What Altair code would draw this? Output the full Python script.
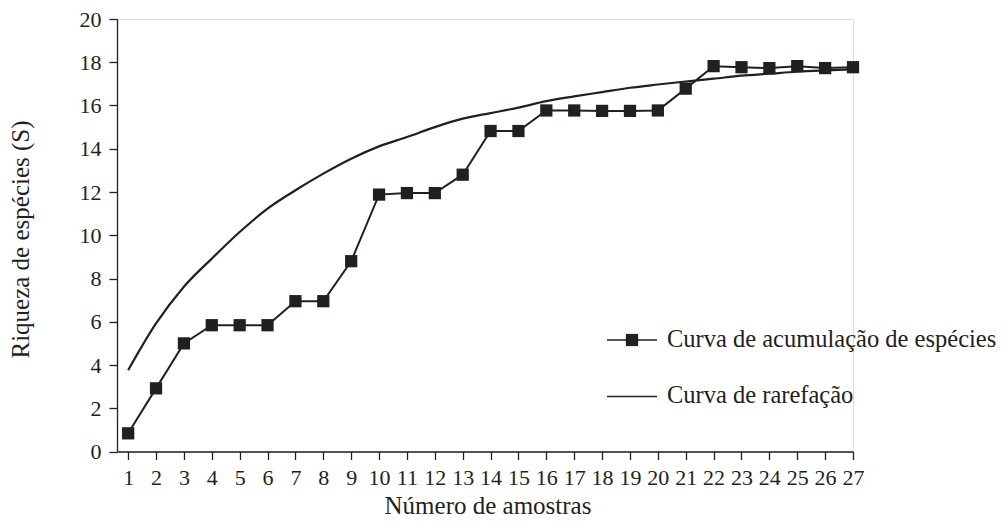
import altair as alt
import pandas as pd

amostras = list(range(1, 28))
acumulacao = [0.84, 2.92, 5.0, 5.84, 5.84, 5.84, 6.95, 6.95, 8.8, 11.88, 11.95, 11.95, 12.8,
              14.82, 14.82, 15.77, 15.77, 15.75, 15.75, 15.77, 16.78, 17.82, 17.77, 17.73,
              17.82, 17.73, 17.77]
rarefacao = [3.76, 5.92, 7.62, 8.92, 10.15, 11.23, 12.08, 12.85, 13.54, 14.11, 14.54, 15.0,
             15.39, 15.65, 15.9, 16.2, 16.42, 16.62, 16.82, 16.97, 17.11, 17.24, 17.38, 17.47,
             17.56, 17.62, 17.67]
y_ticks = list(range(0, 21, 2))
legend_labels = ["Curva de acumulação de espécies", "Curva de rarefação"]

INK = "#231f20"
FONT = "Liberation Serif"
FS = 22      # tick labels
FT = 25      # axis titles
FL = 24.5    # legend

df = pd.DataFrame({"amostra": amostras, "acum": acumulacao, "rare": rarefacao})

x_scale = alt.Scale(domain=[0.6, 27], nice=False, zero=False)
x_axis = alt.Axis(values=amostras, title="Número de amostras", grid=False,
                  tickSize=8, labelPadding=8, labelFontSize=FS, labelFont=FONT,
                  labelColor=INK, titleFont=FONT, titleFontSize=FT, titleFontWeight="normal",
                  titleColor=INK, titleX=370.5, titleY=53.5, titleBaseline="middle",
                  labelFlush=False, labelOverlap=False, domainColor=INK, tickColor=INK,
                  domainWidth=1.3, tickWidth=1.3)
y_axis = alt.Axis(values=y_ticks, title="Riqueza de espécies (S)", grid=False,
                  tickSize=8, labelPadding=8, labelFontSize=FS, labelFont=FONT,
                  labelColor=INK, titleFont=FONT, titleFontSize=FT, titleFontWeight="normal",
                  titleColor=INK, titleX=-97, titleY=220, titleAngle=-90,
                  titleBaseline="middle", titleAlign="center", labelFlush=False,
                  labelOverlap=False, domainColor=INK, tickColor=INK,
                  domainWidth=1.3, tickWidth=1.3)
y_scale = alt.Scale(domain=[0, 20], nice=False)

x_enc = alt.X("amostra:Q", scale=x_scale, axis=x_axis)

base = alt.Chart(df)
rare_line = base.mark_line(color=INK, strokeWidth=2.2, interpolate="monotone").encode(
    x=x_enc, y=alt.Y("rare:Q", scale=y_scale, axis=y_axis))
acum_line = base.mark_line(color=INK, strokeWidth=2).encode(
    x=x_enc, y=alt.Y("acum:Q", scale=y_scale, axis=y_axis))
acum_pts = base.mark_square(color=INK, size=150, opacity=1).encode(
    x=x_enc, y=alt.Y("acum:Q", scale=y_scale, axis=y_axis))

leg = pd.DataFrame({"label": legend_labels, "row": [0, 1]})
leg1 = alt.Chart(leg[leg.row == 0])
leg2 = alt.Chart(leg[leg.row == 1])
legend = alt.layer(
    leg1.mark_rule(color=INK, strokeWidth=1.3).encode(
        x=alt.value(490), x2=alt.value(540), y=alt.value(321)),
    leg1.mark_square(color=INK, size=150, opacity=1).encode(
        x=alt.value(515), y=alt.value(321)),
    leg1.mark_text(font=FONT, fontSize=FL, color=INK, align="left", baseline="alphabetic").encode(
        x=alt.value(550), y=alt.value(328), text="label:N"),
    leg2.mark_rule(color=INK, strokeWidth=1.3).encode(
        x=alt.value(490), x2=alt.value(540), y=alt.value(377.5)),
    leg2.mark_text(font=FONT, fontSize=FL, color=INK, align="left", baseline="alphabetic").encode(
        x=alt.value(550), y=alt.value(384), text="label:N"),
)

chart = alt.layer(rare_line, acum_line, acum_pts, legend).properties(
    width=736, height=432.5,
    autosize=alt.AutoSizeParams(type="none"),
    padding={"left": 109, "top": 11, "right": 147, "bottom": 70},
).configure_view(stroke=None).configure_axis(labelOverlap=False).configure(background="white")

chart.save("out.html", embed_options={"renderer": "svg", "actions": False})
